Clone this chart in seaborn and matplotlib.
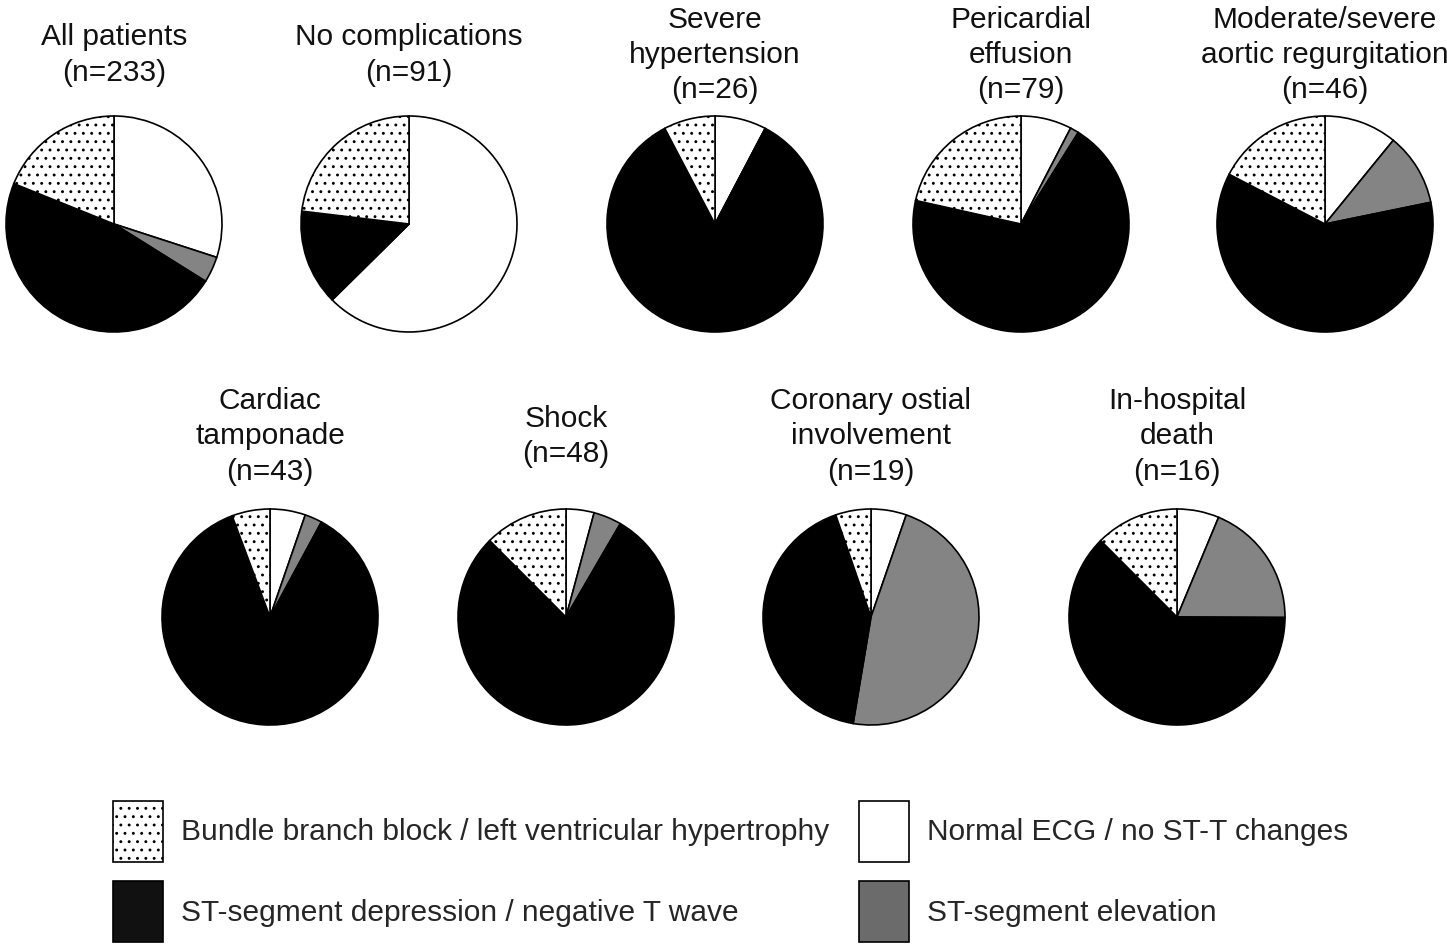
import matplotlib
matplotlib.use("Agg")
import matplotlib.pyplot as plt
from matplotlib.patches import Patch
import seaborn as sns

# ---------------- data (percent of patients per ECG finding) ----------------
groups = ["All patients", "No complications", "Severe\nhypertension", "Pericardial\neffusion",
          "Moderate/severe\naortic regurgitation", "Cardiac\ntamponade", "Shock",
          "Coronary ostial\ninvolvement", "In-hospital\ndeath"]
n_patients = [233, 91, 26, 79, 46, 43, 48, 19, 16]
normal = [30.0, 62.6, 7.7, 7.6, 10.9, 5.3, 4.2, 5.3, 6.3]
elevation = [3.9, 0.0, 0.0, 1.3, 10.9, 2.6, 4.2, 47.4, 18.8]
depression = [47.2, 14.3, 84.6, 69.6, 60.9, 86.4, 79.2, 42.1, 62.5]
bbb_lvh = [18.9, 23.1, 7.7, 21.5, 17.4, 5.7, 12.5, 5.3, 12.5]

categories = ["Bundle branch block / left ventricular hypertrophy",
              "ST-segment depression / negative T wave",
              "Normal ECG / no ST-T changes",
              "ST-segment elevation"]

# ---------------- style ----------------
sns.set_theme(style="white")
plt.rcParams["font.family"] = ["Liberation Sans", "DejaVu Sans"]
plt.rcParams["hatch.linewidth"] = 0.9
FS = 21.5

W, H = 1447, 951
fig = plt.figure(figsize=(W / 100, H / 100), dpi=100)
fig.patch.set_facecolor("white")

pie_gray = "#848484"
# pie wedge order, clockwise from 12 o'clock
wedge_colors = ["white", pie_gray, "black", "white"]
wedge_hatch = [None, None, None, ".."]

centers = [(114, 224), (409, 224), (715, 224), (1021, 224), (1325, 224),
           (270, 617), (566, 617), (871, 617), (1177, 617)]
title_y = [55] * 5 + [436.5] * 4
R = 108
lim = 1.03

for i, name in enumerate(groups):
    cx, cy = centers[i]
    size = 2 * R * lim
    ax = fig.add_axes([(cx - size / 2) / W, 1 - (cy + size / 2) / H, size / W, size / H])
    vals = [normal[i], elevation[i], depression[i], bbb_lvh[i]]
    wedges, _ = ax.pie(vals, colors=wedge_colors, startangle=90, counterclock=False,
                       wedgeprops=dict(edgecolor="black", linewidth=1.2))
    for w, h in zip(wedges, wedge_hatch):
        if h:
            w.set_hatch(h)
    ax.set_xlim(-lim, lim)
    ax.set_ylim(-lim, lim)
    ax.set_aspect("equal")
    ax.axis("off")
    fig.text(cx / W, 1 - title_y[i] / H, f"{name}\n(n={n_patients[i]})",
             ha="center", va="center", multialignment="center",
             fontsize=FS, linespacing=1.34, color="#111111")

# ---------------- legend ----------------
handles = [Patch(facecolor="white", edgecolor="black", hatch="..", linewidth=1.2),
           Patch(facecolor="#111111", edgecolor="black", linewidth=1.2),
           Patch(facecolor="white", edgecolor="black", linewidth=1.2),
           Patch(facecolor="#6b6b6b", edgecolor="black", linewidth=1.2)]
fig.legend(handles, categories, ncol=2, frameon=False, fontsize=FS,
           loc="upper left", bbox_to_anchor=(113 / W, 1 - 801 / H),
           handlelength=1.67, handleheight=2.77, handletextpad=0.6,
           labelspacing=0.64, columnspacing=1.0, borderpad=0, borderaxespad=0)

fig.savefig("out.png", dpi=100, facecolor="white")
